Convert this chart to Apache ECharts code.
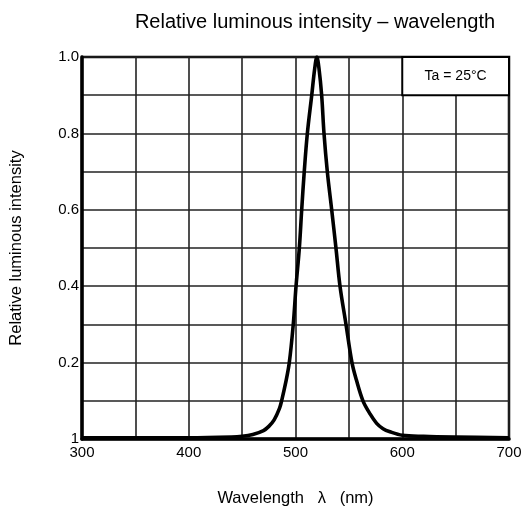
<!DOCTYPE html>
<html>
<head>
<meta charset="utf-8">
<script src="https://cdn.jsdelivr.net/npm/echarts@6/dist/echarts.min.js"></script>
<style>html,body{margin:0;padding:0;background:#fff;}#c{width:529px;height:515px;}</style>
</head>
<body>
<div id="c"></div>
<script>
const titleText = 'Relative luminous intensity \u2013 wavelength';
const xName = 'Wavelength   \u03bb   (nm)';
const yName = 'Relative luminous intensity';
const noteText = 'Ta = 25\u00b0C';
const wavelengths = [300, 350, 400, 440, 450, 460, 470, 475, 480, 485, 487, 491, 494.2, 497.9, 500.5, 503.6, 505.8, 508.2, 511.1, 515.2, 518, 520, 522, 524.5, 526.7, 529.8, 533.9, 537.9, 541.7, 547.3, 552.9, 557, 563.2, 570, 576, 582, 588.5, 600, 620, 650, 700];
const intensity =   [0.003, 0.003, 0.003, 0.005, 0.007, 0.012, 0.022, 0.033, 0.05, 0.08, 0.1, 0.15, 0.2, 0.3, 0.4, 0.5, 0.6, 0.7, 0.8, 0.9, 0.97, 1.0, 0.97, 0.9, 0.8, 0.7, 0.6, 0.5, 0.4, 0.3, 0.2, 0.155, 0.1, 0.065, 0.041, 0.027, 0.019, 0.01, 0.007, 0.005, 0.003];
const yTickLabels = {0: '1', 2: '0.2', 4: '0.4', 6: '0.6', 8: '0.8', 10: '1.0'};
const xTickLabels = [300, 400, 500, 600, 700];
const noteBox = [[600, 0.9], [700, 1.0]];

const chart = echarts.init(document.getElementById('c'), null, {renderer: 'canvas'});
const font = 'Liberation Sans, Arial, sans-serif';
chart.setOption({
  animation: false,
  backgroundColor: '#fff',
  textStyle: {fontFamily: font, color: '#000'},
  title: {
    text: titleText, left: 310, top: 7, textAlign: 'center',
    textStyle: {fontFamily: font, fontSize: 20, fontWeight: 'normal', color: '#000'}
  },
  grid: {left: 82, right: 20, top: 57, bottom: 76, show: true, borderColor: '#000', borderWidth: 2.5, backgroundColor: 'transparent'},
  xAxis: {
    type: 'value', min: 300, max: 700, interval: 50,
    name: xName, nameLocation: 'middle', nameGap: 51,
    nameTextStyle: {fontFamily: font, fontSize: 16.5, color: '#000'},
    axisLine: {show: true, lineStyle: {color: '#000', width: 3.5}},
    axisTick: {show: false},
    splitLine: {show: true, lineStyle: {color: '#222', width: 1.6}},
    axisLabel: {
      fontFamily: font, fontSize: 15, color: '#000', margin: 6,
      formatter: v => xTickLabels.indexOf(Math.round(v)) >= 0 ? String(Math.round(v)) : ''
    }
  },
  yAxis: {
    type: 'value', min: 0, max: 1, interval: 0.1,
    name: yName, nameLocation: 'middle', nameGap: 57, nameRotate: 90,
    nameTextStyle: {fontFamily: font, fontSize: 16.5, color: '#000'},
    axisLine: {show: true, lineStyle: {color: '#000', width: 3.5}},
    axisTick: {show: false},
    splitLine: {show: true, lineStyle: {color: '#222', width: 1.6}},
    axisLabel: {
      fontFamily: font, fontSize: 15, color: '#000', margin: 3,
      formatter: v => { const k = Math.round(v * 10); return yTickLabels[k] !== undefined ? yTickLabels[k] : ''; }
    }
  },
  series: [{
    type: 'line',
    data: wavelengths.map((w, i) => [w, intensity[i]]),
    showSymbol: false,
    smooth: 0.35,
    lineStyle: {color: '#000', width: 3.6, join: 'round'},
    clip: true,
    z: 5,
    markArea: {
      silent: true,
      itemStyle: {color: '#fff', borderColor: '#000', borderWidth: 2},
      label: {show: true, position: 'inside', formatter: noteText, fontFamily: font, fontSize: 14, color: '#000'},
      data: [[{coord: noteBox[0]}, {coord: noteBox[1]}]]
    }
  }]
});
</script>
</body>
</html>
